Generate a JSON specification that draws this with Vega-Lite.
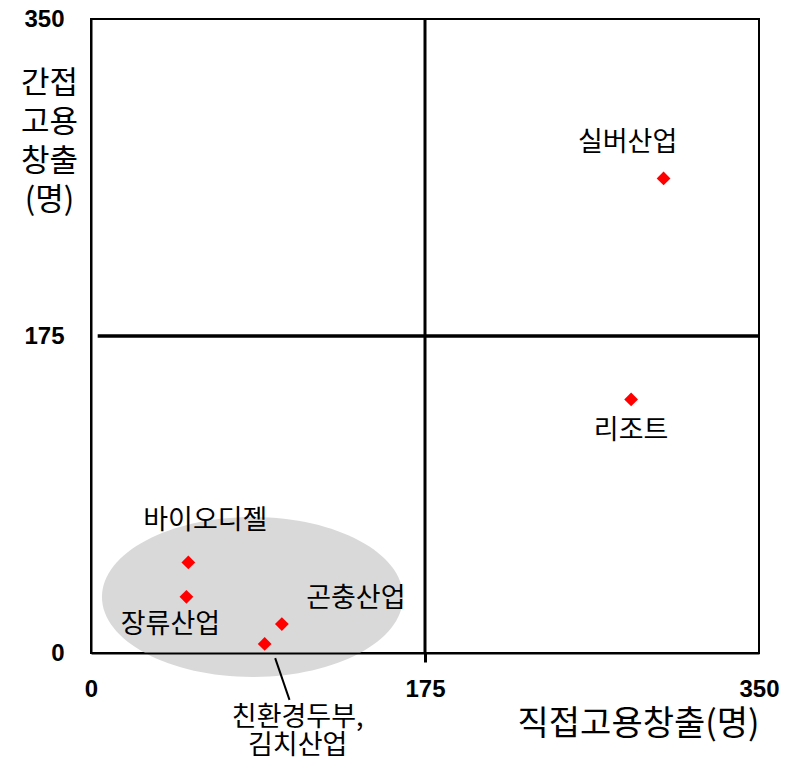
{
  "$schema": "https://vega.github.io/schema/vega-lite/v6.json",
  "width": 668,
  "height": 634,
  "autosize": {"type": "none"},
  "padding": {"left": 91, "top": 19, "right": 30, "bottom": 112},
  "background": "white",
  "config": {"view": {"stroke": "black", "strokeWidth": 2}, "font": "Noto Sans CJK KR"},
  "datasets": {
    "points": [
      {"name": "실버산업", "x": 300, "y": 262},
      {"name": "리조트", "x": 283, "y": 140},
      {"name": "바이오디젤", "x": 51, "y": 50},
      {"name": "장류산업", "x": 50, "y": 31},
      {"name": "곤충산업", "x": 100, "y": 16},
      {"name": "친환경두부,\n김치산업", "x": 91, "y": 5}
    ],
    "cluster": [{"x": 84.6, "y": 30.9}],
    "leader": [{"x": 96.5, "y": -2.8, "x2": 104, "y2": -25.9}],
    "quadrant": [{"mid": 175, "start": 3.5, "end": 350}]
  },
  "layer": [
    {
      "data": {"name": "cluster"},
      "mark": {"type": "point", "filled": true, "shape": "M -1 0 C -1 -0.2933 -0.5523 -0.531 0 -0.531 C 0.5523 -0.531 1 -0.2933 1 0 C 1 0.2933 0.5523 0.531 0 0.531 C -0.5523 0.531 -1 0.2933 -1 0 Z", "size": 90601, "color": "#d9d9d9", "opacity": 1, "strokeWidth": 0},
      "encoding": {
        "x": {"field": "x", "type": "quantitative", "scale": {"domain": [0, 350], "nice": false, "zero": false},
          "axis": {"values": [0, 175, 350], "grid": false, "domain": true, "domainColor": "black", "domainWidth": 2,
            "ticks": true, "tickSize": 9, "tickWidth": 3,
            "tickColor": {"condition": {"test": "datum.value === 175", "value": "black"}, "value": "transparent"},
            "labelPadding": 15, "labelFont": "Liberation Sans", "labelFontWeight": "bold", "labelFontSize": 24, "labelColor": "black",
            "labelFlush": false, "labelOverlap": false,
            "title": "직접고용창출(명)", "titleFont": "Noto Sans CJK KR", "titleFontSize": 34, "titleFontWeight": "normal", "titleColor": "black",
            "titleAnchor": "end", "titlePadding": 6, "zindex": 1}},
        "y": {"field": "y", "type": "quantitative", "scale": {"domain": [0, 350], "nice": false, "zero": false},
          "axis": {"values": [0, 175, 350], "grid": false, "domain": true, "domainColor": "black", "domainWidth": 2,
            "ticks": false, "labelPadding": 27, "labelFont": "Liberation Sans", "labelFontWeight": "bold", "labelFontSize": 24, "labelColor": "black",
            "labelFlush": false, "labelOverlap": false, "labelBaseline": "middle",
            "title": ["간접", "고용", "창출", "(명)"], "titleFont": "Noto Sans CJK KR", "titleFontSize": 31, "titleFontWeight": "normal", "titleColor": "black",
            "titleAngle": 0, "titleX": -42, "titleY": 49, "titleAlign": "center", "titleBaseline": "top", "titleLineHeight": 39, "zindex": 1}}
      }
    },
    {
      "data": {"name": "quadrant"},
      "mark": {"type": "rule", "color": "black", "strokeWidth": 3},
      "encoding": {"x": {"field": "mid", "type": "quantitative"}}
    },
    {
      "data": {"name": "quadrant"},
      "mark": {"type": "rule", "color": "black", "strokeWidth": 3.5},
      "encoding": {"y": {"field": "mid", "type": "quantitative"}, "x": {"field": "start", "type": "quantitative"}, "x2": {"field": "end"}}
    },
    {
      "data": {"name": "leader"},
      "mark": {"type": "rule", "color": "black", "strokeWidth": 2},
      "encoding": {
        "x": {"field": "x", "type": "quantitative"},
        "y": {"field": "y", "type": "quantitative"},
        "x2": {"field": "x2"},
        "y2": {"field": "y2"}
      }
    },
    {
      "data": {"name": "points"},
      "mark": {"type": "point", "shape": "diamond", "filled": true, "color": "#ff0000", "size": 190, "opacity": 1},
      "encoding": {
        "x": {"field": "x", "type": "quantitative"},
        "y": {"field": "y", "type": "quantitative"}
      }
    },
    {
      "data": {"name": "points"},
      "transform": [{"filter": "datum.name === '실버산업'"}],
      "mark": {"type": "text", "dx": -36, "dy": -35, "fontSize": 27, "font": "Noto Sans CJK KR", "align": "center", "baseline": "middle", "color": "black"},
      "encoding": {"x": {"field": "x", "type": "quantitative"}, "y": {"field": "y", "type": "quantitative"}, "text": {"field": "name"}}
    },
    {
      "data": {"name": "points"},
      "transform": [{"filter": "datum.name === '리조트'"}],
      "mark": {"type": "text", "dx": 0, "dy": 32, "fontSize": 27, "font": "Noto Sans CJK KR", "align": "center", "baseline": "middle", "color": "black"},
      "encoding": {"x": {"field": "x", "type": "quantitative"}, "y": {"field": "y", "type": "quantitative"}, "text": {"field": "name"}}
    },
    {
      "data": {"name": "points"},
      "transform": [{"filter": "datum.name === '바이오디젤'"}],
      "mark": {"type": "text", "dx": 17, "dy": -41, "fontSize": 27, "font": "Noto Sans CJK KR", "align": "center", "baseline": "middle", "color": "black"},
      "encoding": {"x": {"field": "x", "type": "quantitative"}, "y": {"field": "y", "type": "quantitative"}, "text": {"field": "name"}}
    },
    {
      "data": {"name": "points"},
      "transform": [{"filter": "datum.name === '장류산업'"}],
      "mark": {"type": "text", "dx": -16, "dy": 28, "fontSize": 27, "font": "Noto Sans CJK KR", "align": "center", "baseline": "middle", "color": "black"},
      "encoding": {"x": {"field": "x", "type": "quantitative"}, "y": {"field": "y", "type": "quantitative"}, "text": {"field": "name"}}
    },
    {
      "data": {"name": "points"},
      "transform": [{"filter": "datum.name === '곤충산업'"}],
      "mark": {"type": "text", "dx": 74, "dy": -25, "fontSize": 27, "font": "Noto Sans CJK KR", "align": "center", "baseline": "middle", "color": "black"},
      "encoding": {"x": {"field": "x", "type": "quantitative"}, "y": {"field": "y", "type": "quantitative"}, "text": {"field": "name"}}
    },
    {
      "data": {"name": "points"},
      "transform": [{"filter": "datum.y < 10"}],
      "mark": {"type": "text", "dx": 33, "dy": 61, "fontSize": 27, "font": "Noto Sans CJK KR", "align": "center", "baseline": "top", "lineBreak": "\n", "lineHeight": 28, "color": "black"},
      "encoding": {"x": {"field": "x", "type": "quantitative"}, "y": {"field": "y", "type": "quantitative"}, "text": {"field": "name"}}
    }
  ]
}
